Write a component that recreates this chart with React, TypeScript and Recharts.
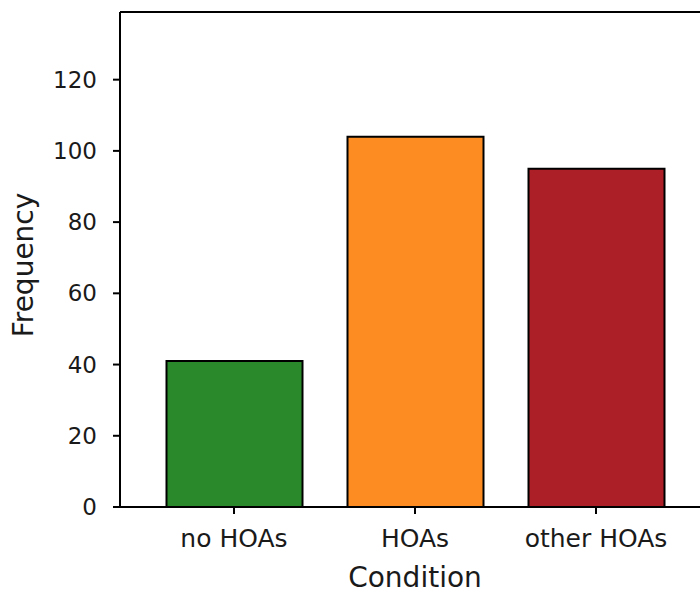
import { Bar, BarChart, Cell, Label, ReferenceLine, XAxis, YAxis } from "recharts";

const conditions = ["no HOAs", "HOAs", "other HOAs"];
const frequencies = [41, 104, 95];
const barColors = ["#2a8a2b", "#fd8c22", "#ad1f27"];
const yTicks = [0, 20, 40, 60, 80, 100, 120];

const data = conditions.map((c, i) => ({ condition: c, frequency: frequencies[i] }));

const FONT = "'DejaVu Sans', sans-serif";

export default function App() {
  return (
    <div style={{ position: "fixed", left: 0, top: 0, width: 700, height: 590, overflow: "hidden", background: "#fff" }}>
      <BarChart
        width={720}
        height={590}
        data={data}
        margin={{ top: 12, right: 10, left: 0, bottom: 0 }}
      >
        <XAxis
          dataKey="condition"
          height={83}
          padding={{ left: 23.5, right: 23.5 }}
          axisLine={{ stroke: "#000", strokeWidth: 2 }}
          tickLine={{ stroke: "#000", strokeWidth: 2 }}
          tickSize={7}
          tickMargin={15}
          tick={{ fill: "#1a1a1a", fontSize: 25, fontFamily: FONT }}
          interval={0}
        >
          <Label
            content={({ viewBox }: any) => (
              <text
                x={viewBox.x + viewBox.width / 2}
                y={587}
                textAnchor="middle"
                fill="#1a1a1a"
                fontSize={28}
                fontFamily={FONT}
              >
                Condition
              </text>
            )}
          />
        </XAxis>
        <YAxis
          width={120}
          domain={[0, 139]}
          ticks={yTicks}
          allowDataOverflow
          axisLine={{ stroke: "#000", strokeWidth: 2 }}
          tickLine={{ stroke: "#000", strokeWidth: 2 }}
          tickSize={7}
          tickMargin={16}
          tick={{ fill: "#1a1a1a", fontSize: 23, fontFamily: FONT }}
        >
          <Label
            content={() => (
              <text
                x={33}
                y={265}
                transform="rotate(-90, 33, 265)"
                textAnchor="middle"
                fill="#1a1a1a"
                fontSize={28}
                fontFamily={FONT}
              >
                Frequency
              </text>
            )}
          />
        </YAxis>
        <ReferenceLine y={139} stroke="#000" strokeWidth={2} />
        <Bar dataKey="frequency" barSize={136} stroke="#000" strokeWidth={2} isAnimationActive={false}>
          {data.map((d, i) => (
            <Cell key={d.condition} fill={barColors[i]} />
          ))}
        </Bar>
      </BarChart>
    </div>
  );
}
